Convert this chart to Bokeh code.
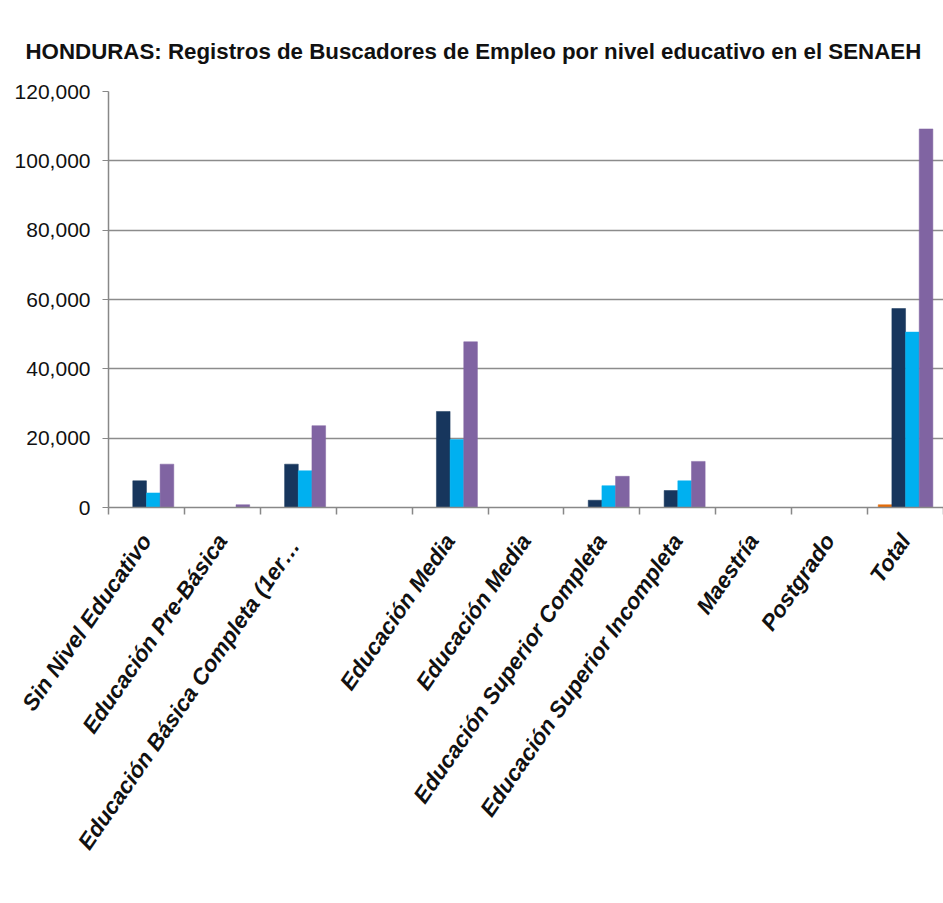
from bokeh.plotting import figure
from bokeh.models import (FixedTicker, Range1d, Legend, LegendItem,
                          NumeralTickFormatter, ColumnDataSource)
from bokeh.transform import dodge
from bokeh.embed import file_html
from bokeh.resources import INLINE

# ---------------- data ----------------
title_text = "HONDURAS: Registros de Buscadores de Empleo por nivel educativo en el SENAEH"
source_text = "Fuente: Elaborado por el OML en base a"
categories = ["Sin Nivel Educativo", "Educación Pre-Básica",
              "Educación Básica  Completa (1er…", "",
              "Educación Media", "Educación Media",
              "Educación Superior Completa", "Educación Superior Incompleta",
              "Maestría", "Postgrado", "Total"]
edad_15_18 = [0, 0, 0, 0, 0, 0, 0, 0, 0, 0, 800]
edad_19_24 = [7700, 0, 12500, 0, 27700, 0, 2100, 4900, 0, 0, 57400]
edad_25_mas = [4200, 0, 10600, 0, 19600, 0, 6300, 7700, 0, 0, 50600]
total_edades = [12500, 800, 23600, 0, 47800, 0, 9000, 13300, 0, 0, 109200]
series_names = ["De 15 a 18 años", "De 19 a 24 años", "De 25 años y más", "Total"]
y_ticks = [0, 20000, 40000, 60000, 80000, 100000, 120000]

colors = ["#E46C0A", "#17365D", "#00B0F0", "#8064A2"]
FONT = "Liberation Sans"

n = len(categories)
centres = [i + 0.5 for i in range(n)]
bounds = [i for i in range(n + 1)]

src = ColumnDataSource(dict(pos=centres, s1=edad_15_18, s2=edad_19_24,
                            s3=edad_25_mas, s4=total_edades))

p = figure(frame_width=835, frame_height=416,
           x_range=Range1d(0, n), y_range=Range1d(0, 120000),
           output_backend="svg", toolbar_location=None,
           min_border_left=108, min_border_right=0, min_border_top=91,
           min_border_bottom=0, outline_line_color=None,
           title=title_text)
p.title.align = "left"
p.title.offset = -83
p.title.standoff = 55
p.title.text_font = FONT
p.title.text_font_size = "22.3px"
p.title.text_font_style = "bold"
p.title.text_color = "#111111"

bw = 0.18
offs = [-1.5 * bw, -0.5 * bw, 0.5 * bw, 1.5 * bw]
bars = []
for k, col in enumerate(["s1", "s2", "s3", "s4"]):
    bars.append(p.vbar(x=dodge("pos", offs[k]), top=col, width=bw, bottom=0,
                       source=src, fill_color=colors[k], line_color=colors[k],
                       line_width=0.5))

p.yaxis.ticker = FixedTicker(ticks=y_ticks)
p.yaxis.formatter = NumeralTickFormatter(format="0,0")
p.yaxis.axis_line_color = "#888888"
p.yaxis.axis_line_width = 1.5
p.yaxis.major_tick_line_color = "#888888"
p.yaxis.major_tick_out = 6
p.yaxis.major_tick_in = 0
p.yaxis.minor_tick_line_color = None
p.yaxis.major_label_text_font = FONT
p.yaxis.major_label_text_font_size = "21px"
p.yaxis.major_label_text_color = "#111111"
p.yaxis.major_label_standoff = 12

p.ygrid.ticker = FixedTicker(ticks=y_ticks)
p.ygrid.grid_line_color = "#8c8c8c"
p.ygrid.grid_line_width = 1.5
p.xgrid.grid_line_color = None

p.xaxis.ticker = FixedTicker(ticks=centres, minor_ticks=bounds)
p.xaxis.major_label_overrides = {c: lab for c, lab in zip(centres, categories)}
p.xaxis.major_tick_line_color = None
p.xaxis.minor_tick_line_color = "#888888"
p.xaxis.minor_tick_line_width = 1.5
p.xaxis.minor_tick_out = 7
p.xaxis.minor_tick_in = 0
p.xaxis.axis_line_color = "#888888"
p.xaxis.axis_line_width = 1.5
p.xaxis.major_label_orientation = 0.965
p.xaxis.major_label_text_font = FONT
p.xaxis.major_label_text_font_size = "22.5px"
p.xaxis.major_label_text_font_style = "bold italic"
p.xaxis.major_label_text_color = "#111111"
p.xaxis.major_label_standoff = 22

# source note (item without a swatch) + legend, on one row below the axis
note_r = p.vbar(x=[], top=[], width=0.1)
pad = "\u00a0" * 20
legend = Legend(items=[LegendItem(label=source_text + pad, renderers=[note_r]),
                       LegendItem(label=series_names[0], renderers=[bars[0]]),
                       LegendItem(label=series_names[1], renderers=[bars[1]])],
                orientation="horizontal", location=(-107, 0),
                label_text_font=FONT, label_text_font_size="20.5px",
                label_text_color="#111111", glyph_width=14, glyph_height=20,
                spacing=36, padding=0, margin=4, border_line_color=None,
                background_fill_alpha=0, label_standoff=5, label_height=24)
p.add_layout(legend, "below")

open("out.html", "w").write(file_html(p, INLINE))
